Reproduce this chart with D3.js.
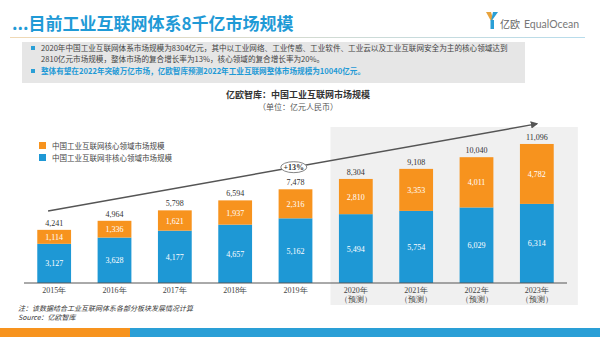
<!DOCTYPE html>
<html>
<head>
<meta charset="utf-8">
<script src="https://cdn.jsdelivr.net/npm/d3@7"></script>
<style>
  html, body { margin: 0; padding: 0; background: #fff; }
  svg { display: block; }
  .cjk { font-family: "Noto Sans CJK SC", "Noto Sans", sans-serif; }
  .num { font-family: "Liberation Serif", "DejaVu Serif", serif; }
</style>
</head>
<body>
<svg id="chart" width="600" height="337"></svg>
<script>
// Market size of China's industrial internet (unit: 100 million RMB)
const years = ["2015年", "2016年", "2017年", "2018年", "2019年", "2020年", "2021年", "2022年", "2023年"];
const forecast = [false, false, false, false, false, true, true, true, true];
const coreValues = [1114, 1336, 1621, 1937, 2316, 2810, 3353, 4011, 4782];
const nonCoreValues = [3127, 3628, 4177, 4657, 5162, 5494, 5754, 6029, 6314];
const totalValues = [4241, 4964, 5798, 6594, 7478, 8304, 9108, 10040, 11096];
const seriesNames = ["中国工业互联网核心领域市场规模", "中国工业互联网非核心领域市场规模"];
const growthLabel = "+13%";
const bulletLines = [
  "2020年中国工业互联网体系市场规模为8304亿元，其中以工业网络、工业传感、工业软件、工业云以及工业互联网安全为主的核心领域达到",
  "2810亿元市场规模，整体市场的复合增长率为13%，核心领域的复合增长率为20%。",
  "整体有望在2022年突破万亿市场，亿欧智库预测2022年工业互联网整体市场规模为10040亿元。"
];

const ORANGE = "#f7931e";
const BLUE = "#1e98d5";
const svg = d3.select("#chart");

// ---- header ----
svg.append("text").attr("class", "cjk").attr("x", 12).attr("y", 30)
  .attr("font-size", 17).attr("font-weight", "bold").attr("fill", "#1f9ad6")
  .text("...目前工业互联网体系8千亿市场规模");

const grad = svg.append("defs").append("linearGradient").attr("id", "rule");
grad.append("stop").attr("offset", "0%").attr("stop-color", "#f0d9b5");
grad.append("stop").attr("offset", "100%").attr("stop-color", "#b7dcec");
svg.append("rect").attr("x", 10).attr("y", 37).attr("width", 575).attr("height", 1).attr("fill", "url(#rule)");

// logo
const logo = svg.append("g").attr("transform", "translate(486,12)");
logo.append("path").attr("d", "M0,0 L5,0 L7,7 L5,9 Z").attr("fill", "#e8a33c");
logo.append("path").attr("d", "M12,0 L7,0 L5,9 L7,7 Z").attr("fill", "#2a9fd6");
logo.append("rect").attr("x", 4.5).attr("y", 8).attr("width", 3.5).attr("height", 9).attr("fill", "#2a9fd6");
svg.append("text").attr("class", "cjk").attr("x", 500).attr("y", 28).attr("font-size", 10)
  .attr("fill", "#666").text("亿欧");
svg.append("text").attr("x", 524).attr("y", 28).attr("font-size", 10.5)
  .attr("font-family", "Lato, sans-serif").attr("fill", "#777").text("EqualOcean");

// summary box
svg.append("rect").attr("x", 22).attr("y", 42).attr("width", 503).attr("height", 41).attr("fill", "#e6e6e6");
const bulletY = [51, 62, 74];
[0, 2].forEach(i => {
  svg.append("rect").attr("x", 31).attr("y", bulletY[i] - 5).attr("width", 4).attr("height", 4).attr("fill", "#2a9fd6");
});
bulletLines.forEach((t, i) => {
  svg.append("text").attr("class", "cjk").attr("x", 41).attr("y", bulletY[i])
    .attr("font-size", 7.6)
    .attr("fill", i === 2 ? "#1f9ad6" : "#444")
    .attr("font-weight", i === 2 ? "bold" : "normal")
    .text(t);
});

// ---- chart titles ----
svg.append("text").attr("class", "cjk").attr("x", 298).attr("y", 98).attr("text-anchor", "middle")
  .attr("font-size", 9).attr("font-weight", "bold").attr("fill", "#333").text("亿欧智库：中国工业互联网市场规模");
svg.append("text").attr("class", "cjk").attr("x", 298).attr("y", 110).attr("text-anchor", "middle")
  .attr("font-size", 8).attr("fill", "#555").text("（单位：亿元人民币）");

// ---- scales ----
const baseY = 283;
const x = d3.scaleBand().domain(years).range([24, 567]).paddingInner(0.44).paddingOuter(0.22);
const y = d3.scaleLinear().domain([0, 12000]).range([baseY, baseY - 12000 * 0.01253]);

// forecast panel
const fc = years.filter((d, i) => forecast[i]);
const panelX0 = x(fc[0]) - x.step() * 0.14;
const panelX1 = x(fc[fc.length - 1]) + x.bandwidth() + x.step() * 0.4;
svg.append("rect").attr("x", panelX0).attr("y", 127).attr("width", panelX1 - panelX0).attr("height", 178).attr("fill", "#f0f0f0");

// legend
const legend = svg.append("g");
[ORANGE, BLUE].forEach((c, i) => {
  legend.append("rect").attr("x", 39).attr("y", 142 + i * 12).attr("width", 7).attr("height", 7).attr("fill", c);
  legend.append("text").attr("class", "cjk").attr("x", 52).attr("y", 148.5 + i * 12)
    .attr("font-size", 7.5).attr("fill", "#444").text(seriesNames[i]);
});

// stacked bars
const rows = years.map((yr, i) => ({ year: yr, nonCore: nonCoreValues[i], core: coreValues[i] }));
const stack = d3.stack().keys(["nonCore", "core"])(rows);
const colors = { nonCore: BLUE, core: ORANGE };
stack.forEach(layer => {
  const g = svg.append("g");
  g.selectAll("rect").data(layer).join("rect")
    .attr("x", d => x(d.data.year))
    .attr("y", d => y(d[1]))
    .attr("width", x.bandwidth())
    .attr("height", d => y(d[0]) - y(d[1]))
    .attr("fill", colors[layer.key]);
  g.selectAll("text").data(layer).join("text")
    .attr("class", "num")
    .attr("x", d => x(d.data.year) + x.bandwidth() / 2)
    .attr("y", d => (y(d[0]) + y(d[1])) / 2 + 3)
    .attr("text-anchor", "middle").attr("font-size", 8).attr("fill", "#fff")
    .text(d => d3.format(",")(d.data[layer.key]));
});

// totals
svg.append("g").selectAll("text").data(years).join("text")
  .attr("class", "num")
  .attr("x", d => x(d) + x.bandwidth() / 2)
  .attr("y", (d, i) => y(totalValues[i]) - 4)
  .attr("text-anchor", "middle").attr("font-size", 8).attr("fill", "#333")
  .text((d, i) => d3.format(",")(totalValues[i]));

// x axis
svg.append("line").attr("x1", 24).attr("x2", 567).attr("y1", baseY).attr("y2", baseY)
  .attr("stroke", "#555").attr("stroke-width", 1);
const xl = svg.append("g").selectAll("text").data(years).join("text")
  .attr("class", "num")
  .attr("x", d => x(d) + x.bandwidth() / 2)
  .attr("y", baseY + 10)
  .attr("text-anchor", "middle").attr("font-size", 8).attr("fill", "#444");
xl.append("tspan").text(d => d);
xl.filter((d, i) => forecast[i]).append("tspan")
  .attr("x", d => x(d) + x.bandwidth() / 2).attr("dy", 9).text("（预测）");

// growth arrow
const defs = svg.select("defs");
defs.append("marker").attr("id", "arrow").attr("viewBox", "0 0 10 10").attr("refX", 8).attr("refY", 5)
  .attr("markerWidth", 5).attr("markerHeight", 5).attr("orient", "auto")
  .append("path").attr("d", "M0,0 L10,5 L0,10 Z").attr("fill", "#555");
const ax0 = x(years[0]) + x.bandwidth() * 0.32, ay0 = y(5750);
const ax1 = x(years[8]) + x.bandwidth() * 0.5, ay1 = y(12700);
svg.append("line").attr("x1", ax0).attr("y1", ay0).attr("x2", ax1).attr("y2", ay1)
  .attr("stroke", "#555").attr("stroke-width", 1.5).attr("marker-end", "url(#arrow)");
const ex = x(years[4]) + x.bandwidth() * 0.45;
const ey = ay0 + (ay1 - ay0) * (ex - ax0) / (ax1 - ax0);
svg.append("ellipse").attr("cx", ex).attr("cy", ey).attr("rx", 13).attr("ry", 5.5)
  .attr("fill", "#fff").attr("stroke", "#777").attr("stroke-width", 0.9);
svg.append("text").attr("class", "num").attr("x", ex).attr("y", ey + 2.8).attr("text-anchor", "middle")
  .attr("font-size", 8).attr("font-weight", "bold").attr("fill", "#333").text(growthLabel);

// notes
svg.append("text").attr("class", "cjk").attr("x", 18).attr("y", 311).attr("font-size", 7)
  .attr("font-style", "italic").attr("fill", "#333").text("注：该数据结合工业互联网体系各部分板块发展情况计算");
svg.append("text").attr("class", "cjk").attr("x", 18).attr("y", 320).attr("font-size", 7)
  .attr("font-style", "italic").attr("fill", "#333").text("Source：亿欧智库");

// footer band
svg.append("rect").attr("x", 0).attr("y", 328).attr("width", 130).attr("height", 9).attr("fill", ORANGE);
svg.append("rect").attr("x", 130).attr("y", 328).attr("width", 470).attr("height", 9).attr("fill", "#2a9fd6");
</script>
</body>
</html>
